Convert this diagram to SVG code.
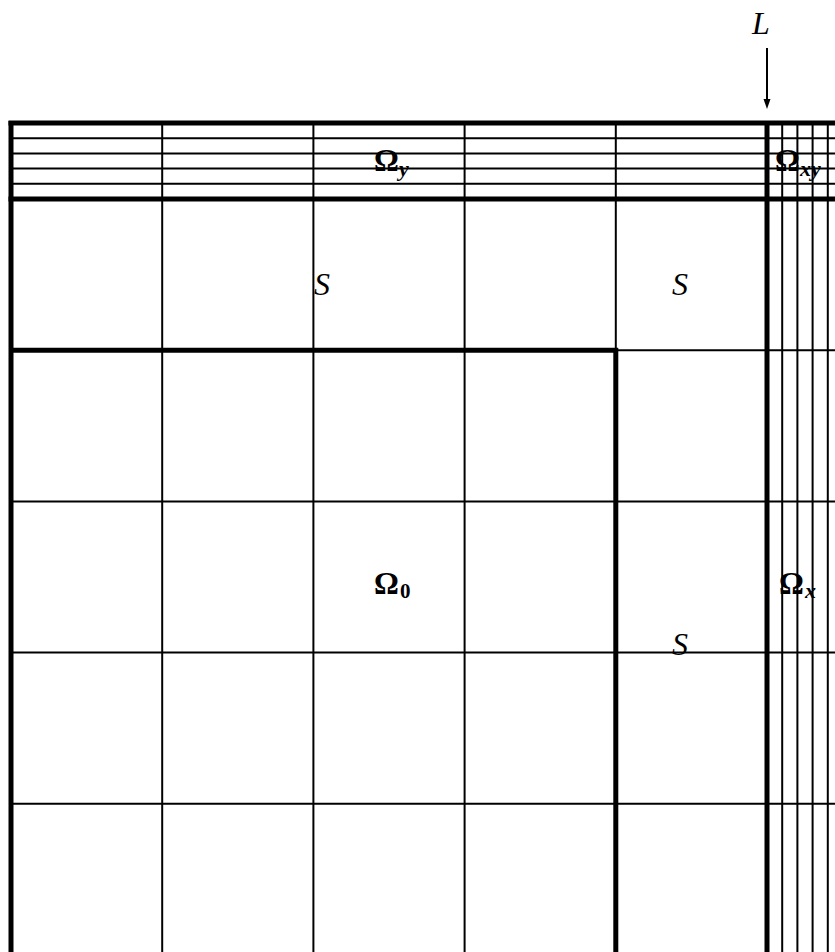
<svg xmlns="http://www.w3.org/2000/svg" width="835" height="952" viewBox="0 0 835 952">
<style>
.thin{stroke:#000;stroke-width:2;fill:none}
.thick{stroke:#000;stroke-width:5;fill:none}
.om{font-family:"Liberation Serif","DejaVu Serif",serif;font-weight:bold;font-size:31px;fill:#000}
.sub{font-family:"Liberation Serif","DejaVu Serif",serif;font-weight:bold;font-style:italic;font-size:22px;fill:#000}
.sub0{font-family:"Liberation Serif","DejaVu Serif",serif;font-weight:bold;font-size:21px;fill:#000}
.it{font-family:"Liberation Serif","DejaVu Serif",serif;font-style:italic;font-size:32px;fill:#000}
</style>
<rect width="835" height="952" fill="#fff"/>
<g id="grid-thin" class="thin">
<line x1="11" y1="138.2" x2="835" y2="138.2"/>
<line x1="11" y1="153.4" x2="835" y2="153.4"/>
<line x1="11" y1="168.6" x2="835" y2="168.6"/>
<line x1="11" y1="183.8" x2="835" y2="183.8"/>
<line x1="616" y1="350.2" x2="835" y2="350.2"/>
<line x1="11" y1="501.4" x2="835" y2="501.4"/>
<line x1="11" y1="652.6" x2="835" y2="652.6"/>
<line x1="11" y1="803.8" x2="835" y2="803.8"/>
<line x1="162.2" y1="123" x2="162.2" y2="952"/>
<line x1="313.4" y1="123" x2="313.4" y2="952"/>
<line x1="464.6" y1="123" x2="464.6" y2="952"/>
<line x1="615.8" y1="123" x2="615.8" y2="350"/>
<line x1="782.2" y1="123" x2="782.2" y2="952"/>
<line x1="797.4" y1="123" x2="797.4" y2="952"/>
<line x1="812.6" y1="123" x2="812.6" y2="952"/>
<line x1="827.8" y1="123" x2="827.8" y2="952"/>
</g>
<g id="grid-thick" class="thick">
<line x1="8.5" y1="123" x2="835" y2="123"/>
<line x1="8.5" y1="199" x2="835" y2="199"/>
<line x1="11" y1="121" x2="11" y2="952"/>
<line x1="767" y1="121" x2="767" y2="952"/>
<line x1="11" y1="350.2" x2="618" y2="350.2"/>
<line x1="615.8" y1="348" x2="615.8" y2="952"/>
</g>
<g id="omega-y"><text class="om" x="374" y="171">Ω</text><text class="sub" x="399" y="176">y</text></g>
<g id="omega-xy"><text class="om" x="775" y="171">Ω</text><text class="sub" x="800" y="176">xy</text></g>
<g id="omega-0"><text class="om" x="374" y="594">Ω</text><text class="sub0" x="400" y="598">0</text></g>
<g id="omega-x"><text class="om" x="779" y="594">Ω</text><text class="sub" x="805" y="598">x</text></g>
<g id="labels">
<text class="it" x="314" y="295">S</text>
<text class="it" x="672" y="295">S</text>
<text class="it" x="672" y="655">S</text>
<text class="it" x="752" y="34">L</text>
</g>
<g id="connectors">
<line x1="767" y1="48" x2="767" y2="100" stroke="#000" stroke-width="2"/>
<polygon points="763.5,99 770.5,99 767,109" fill="#000"/>
</g>
</svg>
